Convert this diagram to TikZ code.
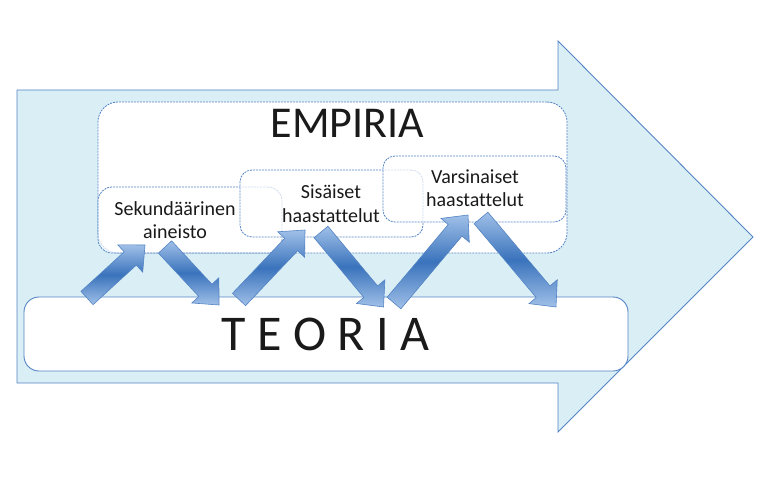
\documentclass[tikz,border=0pt]{standalone}
\usepackage{fontspec}
\setmainfont[Ligatures=NoCommon]{Carlito}
\usetikzlibrary{calc}
\definecolor{arrowfill}{RGB}{218,238,245}
\definecolor{lineblue}{RGB}{84,132,196}
\definecolor{gradlight}{RGB}{160,192,232}
\definecolor{graddark}{RGB}{58,115,188}
\definecolor{textblack}{RGB}{26,26,26}
\tikzset{
  bigarrow/.style={fill=arrowfill, draw=lineblue, line width=0.9pt, line join=miter},
  solidbox/.style={draw=lineblue, line width=0.9pt, fill=white, inner sep=0pt},
  dashbox/.style={draw=lineblue, line width=0.8pt, fill=white, inner sep=0pt, dash pattern=on 2pt off 1pt},
  glassbox/.style={dashbox, fill opacity=0.72},
  bigtext/.style={text=textblack, anchor=base, inner sep=0pt},
  smalltext/.style={text=textblack, anchor=base, inner sep=0pt, font=\fontsize{20}{24}\selectfont},
  flowarrow/.style={top color=gradlight, bottom color=gradlight, middle color=graddark,
    draw=lineblue, line width=0.6pt, line join=miter}
}
\newcommand\blockarrow[2]{%
  \coordinate (#1-b) at ($(#2)!20pt!(#1)$);
  \shade[flowarrow]
    ($(#1)!9pt!90:(#2)$) -- ($(#1-b)!9pt!-90:(#1)$) -- ($(#1-b)!18.5pt!-90:(#1)$) -- (#2)
    -- ($(#1-b)!18.5pt!90:(#1)$) -- ($(#1-b)!9pt!90:(#1)$) -- ($(#1)!9pt!-90:(#2)$) -- cycle;
}
\begin{document}
\begin{tikzpicture}[x=1pt,y=-1pt]
\useasboundingbox (0,0) rectangle (767,476);
% big background arrow
\draw[bigarrow] (17,90) -- (558,90) -- (558,41) -- (753,237) -- (558,432) -- (558,383) -- (17,383) -- cycle;
% boxes
\node[solidbox, rounded corners=15pt, minimum width=604pt, minimum height=74pt] (teoria) at (326,334) {};
\node[dashbox, rounded corners=20pt, minimum width=469pt, minimum height=151pt] (empiria) at (332.5,177.5) {};
\node[glassbox, rounded corners=14pt, minimum width=184pt, minimum height=66pt] (sek) at (190,220) {};
\node[glassbox, rounded corners=12pt, minimum width=183pt, minimum height=67pt] (sis) at (331.5,203.5) {};
\node[glassbox, rounded corners=12pt, minimum width=183pt, minimum height=66pt] (var) at (474.5,189) {};
% texts
\node[bigtext, font=\fontsize{44}{50}\selectfont] (empiriat) at (347.5,137) {EMPIRIA};
\node[bigtext, font=\fontsize{50}{56}\selectfont] (teoriat) at (325.5,350) {T E O R I A};
\node[smalltext] (sek1) at (175,215) {Sekundäärinen};
\node[smalltext] (sek2) at (175,238) {aineisto};
\node[smalltext] (sis1) at (331,198) {Sisäiset};
\node[smalltext] (sis2) at (331,222) {haastattelut};
\node[smalltext] (var1) at (475,183) {Varsinaiset};
\node[smalltext] (var2) at (475,206) {haastattelut};
% flow arrows
\coordinate (a1t) at (87,298);  \coordinate (a1p) at (145,245);
\coordinate (a2t) at (165,247); \coordinate (a2p) at (219,305);
\coordinate (a3t) at (239,299.5); \coordinate (a3p) at (305,230);
\coordinate (a4t) at (321,232); \coordinate (a4p) at (383.5,307);
\coordinate (a5t) at (394,303); \coordinate (a5p) at (468,215);
\coordinate (a6t) at (481,218); \coordinate (a6p) at (556,307);
\blockarrow{a1t}{a1p}
\blockarrow{a2t}{a2p}
\blockarrow{a3t}{a3p}
\blockarrow{a4t}{a4p}
\blockarrow{a5t}{a5p}
\blockarrow{a6t}{a6p}
\end{tikzpicture}
\end{document}
